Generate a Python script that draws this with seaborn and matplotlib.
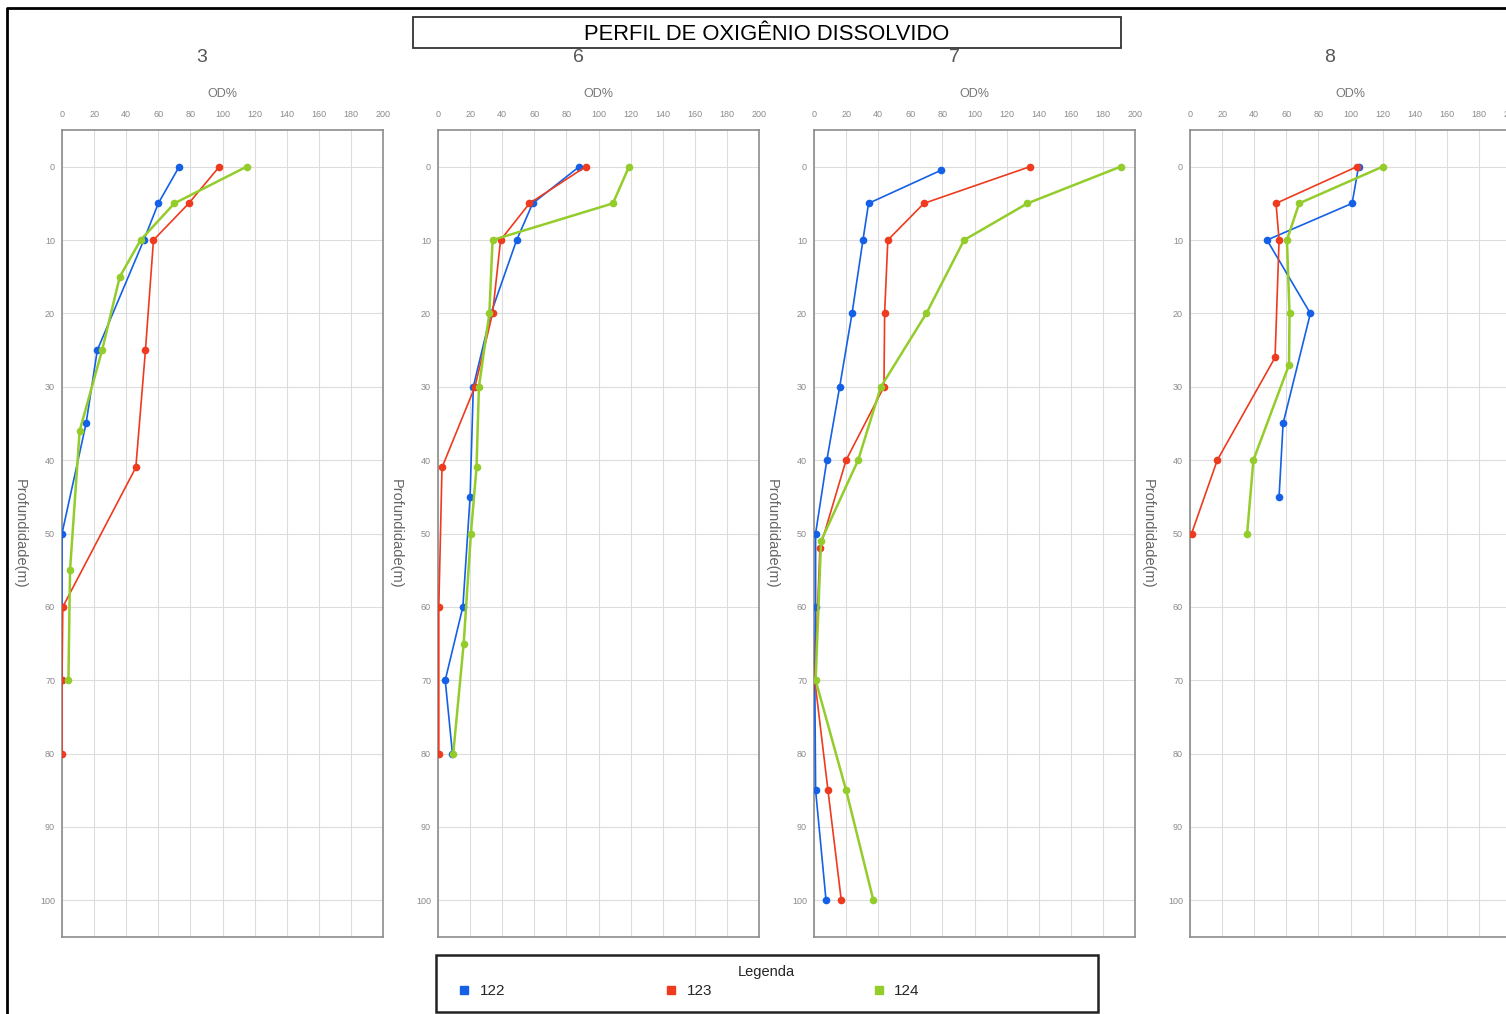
import pandas as pd
import numpy as np
import seaborn as sns
import matplotlib.pyplot as plt
from matplotlib.lines import Line2D
from matplotlib.patches import Rectangle

# estações (painéis) e séries
estacoes = ['3', '6', '7', '8']
series = ['122', '123', '124']
cores = {'122': '#1460e6', '123': '#ee3a1f', '124': '#94cc2c'}
larguras = {'122': 1.2, '123': 1.2, '124': 1.8}

# estação 3
prof_3_122 = [0, 5, 10, 25, 35, 50, 60, 70]
od_3_122 = [73, 60, 51, 22, 15, 0, 0, 0]
prof_3_123 = [0, 5, 10, 25, 41, 60, 70, 80]
od_3_123 = [98, 79, 57, 52, 46, 0.5, 0, 0]
prof_3_124 = [0, 5, 10, 15, 25, 36, 55, 70]
od_3_124 = [115, 70, 49, 36, 25, 11, 5, 4]

# estação 6
prof_6_122 = [0, 5, 10, 20, 30, 45, 60, 70, 80]
od_6_122 = [88, 59, 49, 33, 22, 20, 15.5, 4.5, 9]
prof_6_123 = [0, 5, 10, 20, 30, 41, 60, 80]
od_6_123 = [92, 57, 39, 34, 23, 2.5, 0.5, 0.5]
prof_6_124 = [0, 5, 10, 20, 30, 41, 50, 65, 80]
od_6_124 = [119, 109, 34, 32, 25.5, 24, 20.5, 16, 9.5]

# estação 7
prof_7_122 = [0.5, 5, 10, 20, 30, 40, 50, 60, 70, 85, 100]
od_7_122 = [79, 34, 30.5, 23.7, 16, 8, 1, 1, 0.5, 1, 7.5]
prof_7_123 = [0, 5, 10, 20, 30, 40, 52, 70, 85, 100]
od_7_123 = [134.5, 68.5, 46, 44, 43.6, 20, 3.7, 0.5, 8.7, 17]
prof_7_124 = [0, 5, 10, 20, 30, 40, 51, 70, 85, 100]
od_7_124 = [191, 133, 93.5, 70, 41.7, 27.5, 4.4, 1, 20, 37]

# estação 8
prof_8_122 = [0, 5, 10, 20, 35, 45]
od_8_122 = [105, 101, 48, 75, 58, 55.5]
prof_8_123 = [0, 5, 10, 26, 40, 50]
od_8_123 = [104, 53.6, 55.5, 53, 17, 1]
prof_8_124 = [0, 5, 10, 20, 27, 40, 50]
od_8_124 = [120, 68, 60.4, 62, 61.7, 39.5, 35.6]

dados = {
    ('3', '122'): (prof_3_122, od_3_122), ('3', '123'): (prof_3_123, od_3_123), ('3', '124'): (prof_3_124, od_3_124),
    ('6', '122'): (prof_6_122, od_6_122), ('6', '123'): (prof_6_123, od_6_123), ('6', '124'): (prof_6_124, od_6_124),
    ('7', '122'): (prof_7_122, od_7_122), ('7', '123'): (prof_7_123, od_7_123), ('7', '124'): (prof_7_124, od_7_124),
    ('8', '122'): (prof_8_122, od_8_122), ('8', '123'): (prof_8_123, od_8_123), ('8', '124'): (prof_8_124, od_8_124),
}

linhas = []
for (est, s), (prof, od) in dados.items():
    for p, o in zip(prof, od):
        linhas.append({'estacao': est, 'serie': s, 'prof': p, 'od': o})
df = pd.DataFrame(linhas)

sns.set_style('white')
plt.rcParams['font.family'] = ['Liberation Sans', 'DejaVu Sans']

W, H = 1506, 1014
fig = plt.figure(figsize=(W / 100, H / 100), dpi=100)

lefts = [62, 438, 814, 1190]
top_px, bot_px, w_px = 130, 937, 321

for est, L in zip(estacoes, lefts):
    ax = fig.add_axes([L / W, 1 - bot_px / H, w_px / W, (bot_px - top_px) / H])
    sub = df[df['estacao'] == est]
    for s in series:
        sns.lineplot(data=sub[sub['serie'] == s], x='od', y='prof', sort=False, estimator=None,
                     color=cores[s], lw=larguras[s], marker='o', markersize=5.5, markeredgewidth=0,
                     legend=False, ax=ax, zorder=3)
    ax.set_xlim(0, 200)
    ax.set_ylim(105, -5)
    ax.set_xticks(range(0, 201, 20))
    ax.set_yticks(range(0, 101, 10))
    ax.xaxis.tick_top()
    ax.xaxis.set_label_position('top')
    ax.tick_params(length=0, labelsize=6.5, labelcolor='#8a8a8a')
    ax.tick_params(axis='x', pad=8)
    ax.tick_params(axis='y', pad=5)
    ax.grid(True, color='#dddddd', lw=0.8)
    for sp in ax.spines.values():
        sp.set_color('#8c8c8c')
        sp.set_linewidth(1.2)
    ax.set_xlabel('OD%', fontsize=9, color='#777777', labelpad=9)
    ax.set_ylabel('')
    ax.text(-42 / w_px, 0.5, 'Profundidade(m)', transform=ax.transAxes, rotation=270,
            ha='center', va='center', fontsize=10.5, color='#666666')
    fig.text((L + 140) / W, 1 - 58 / H, est, ha='center', va='center', fontsize=14, color='#555555')

# moldura da figura
fig.add_artist(Line2D([8 / W, 1], [1 - 8 / H, 1 - 8 / H], color='black', lw=2))
fig.add_artist(Line2D([7 / W, 7 / W], [0, 1 - 8 / H], color='black', lw=2))

# título
fig.add_artist(Rectangle((413 / W, 1 - 48 / H), 708 / W, 31 / H, fill=False, ec='#333333', lw=1.3))
fig.text(767 / W, 1 - 34 / H, 'PERFIL DE OXIGÊNIO DISSOLVIDO', ha='center', va='center',
         fontsize=15.8, color='black')

# legenda
fig.add_artist(Rectangle((436 / W, 1 - 1012 / H), 662 / W, 57 / H, fill=False, ec='#222222', lw=1.8))
fig.text(766 / W, 1 - 972 / H, 'Legenda', ha='center', va='center', fontsize=10.5)
handles = [Line2D([], [], ls='', marker='s', markersize=5.5, color=cores[s]) for s in series]
fig.legend(handles, series, loc='center left', bbox_to_anchor=(458 / W, 1 - 991 / H), ncol=3,
           frameon=False, fontsize=11, handlelength=0.8, handletextpad=0.6, columnspacing=10.5,
           borderpad=0, borderaxespad=0)

fig.savefig('out.png', dpi=100)
